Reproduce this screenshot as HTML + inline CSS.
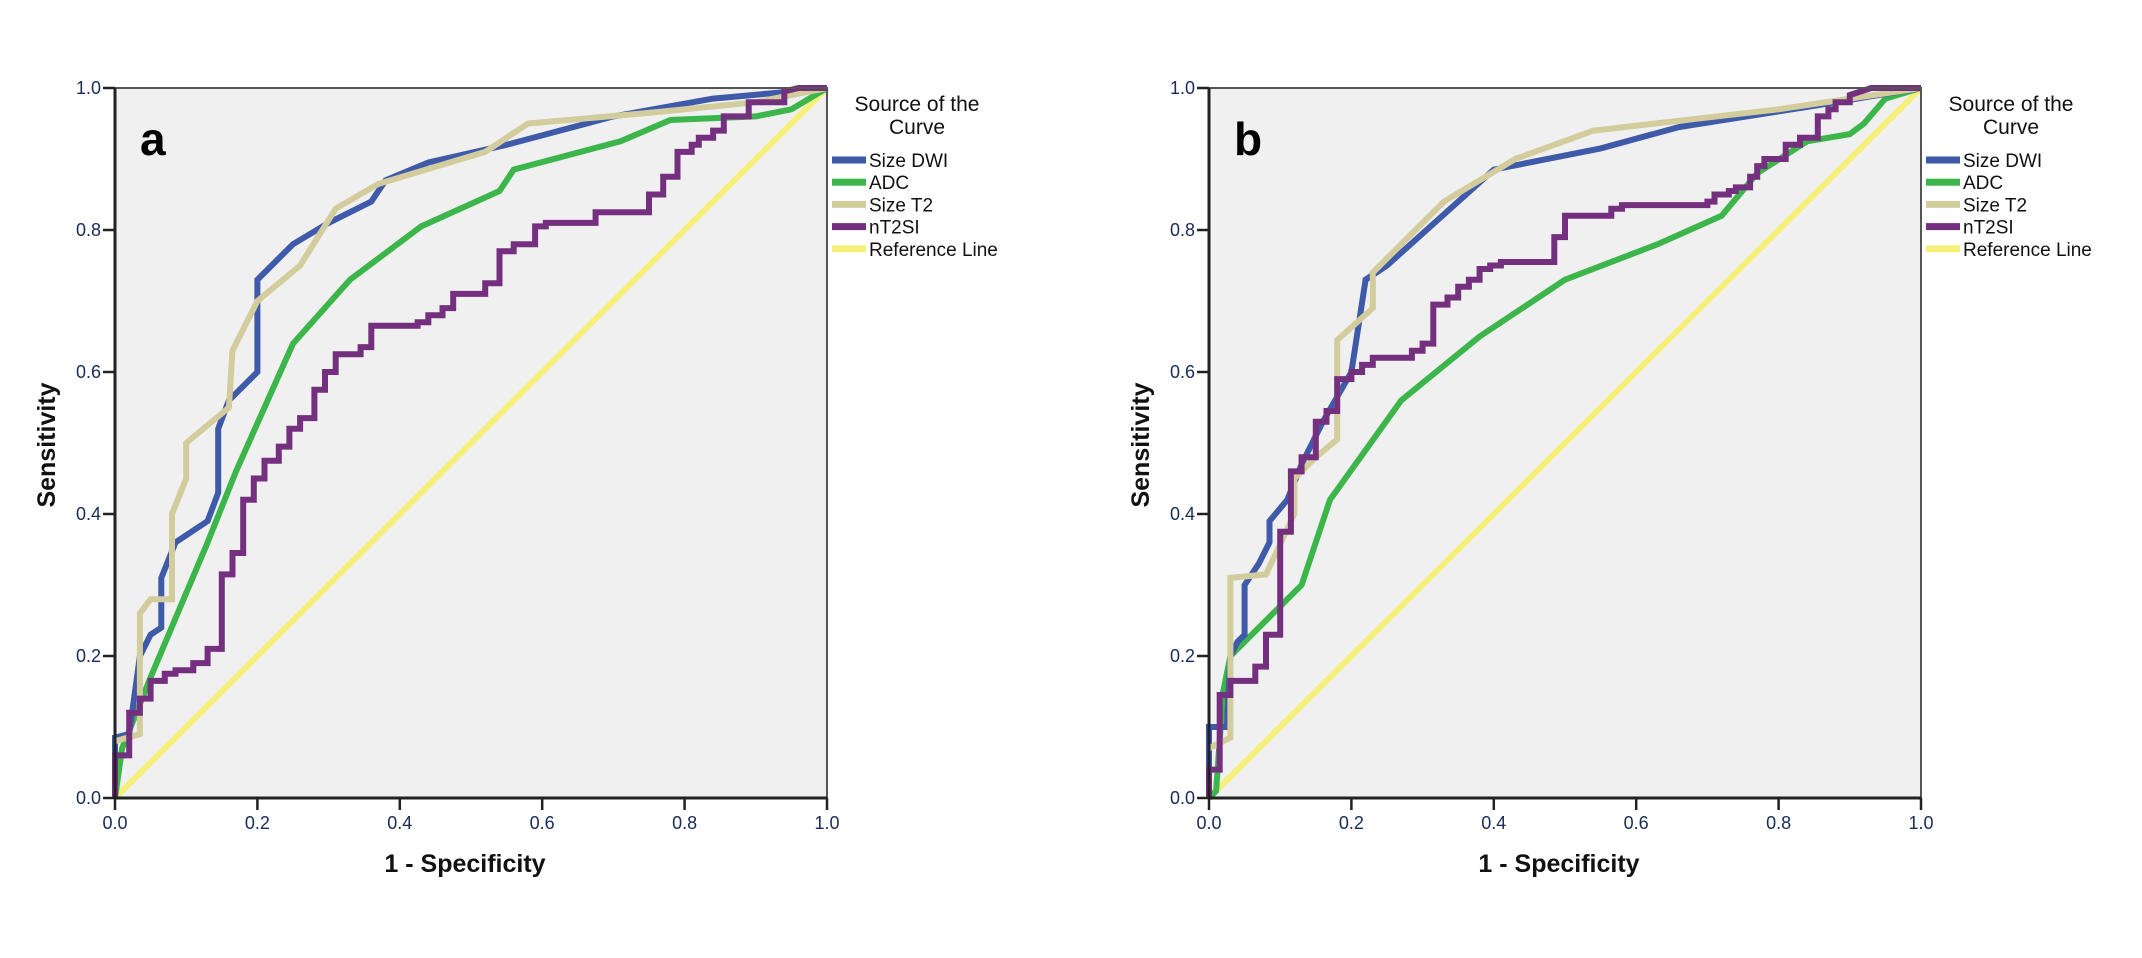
<!DOCTYPE html>
<html><head><meta charset="utf-8"><style>
html,body{margin:0;padding:0;background:#fff;}
svg{display:block;font-family:"Liberation Sans",sans-serif;}
</style></head><body>
<svg id="chart" width="2142" height="958" viewBox="0 0 2142 958" xmlns="http://www.w3.org/2000/svg"></svg>
<script>
// ---------- Data ----------
const xTicks = [0, 0.2, 0.4, 0.6, 0.8, 1.0];
const yTicks = [0, 0.2, 0.4, 0.6, 0.8, 1.0];
const tickLabels = ["0.0","0.2","0.4","0.6","0.8","1.0"];
const seriesNames = ["Size DWI","ADC","Size T2","nT2SI","Reference Line"];
const seriesColors = ["#3e5aa9","#3cb64a","#d3cc9d","#74307f","#f6f07b"];

// Panel a
const aDwiX = [0,0,0.02,0.035,0.05,0.065,0.065,0.085,0.13,0.145,0.145,0.16,0.2,0.2,0.25,0.3,0.36,0.38,0.44,0.55,0.7,0.84,0.95,1];
const aDwiY = [0,0.085,0.09,0.2,0.23,0.24,0.31,0.36,0.39,0.43,0.52,0.56,0.6,0.73,0.78,0.81,0.84,0.87,0.895,0.92,0.96,0.985,0.995,1];
const aAdcX = [0,0.01,0.03,0.05,0.13,0.17,0.25,0.33,0.43,0.54,0.56,0.71,0.78,0.9,0.95,1];
const aAdcY = [0,0.07,0.12,0.17,0.36,0.46,0.64,0.73,0.805,0.855,0.885,0.925,0.955,0.96,0.97,1];
const aT2X = [0,0.035,0.035,0.05,0.08,0.08,0.1,0.1,0.16,0.165,0.2,0.26,0.31,0.37,0.52,0.58,0.75,0.9,1];
const aT2Y = [0.08,0.09,0.26,0.28,0.28,0.4,0.45,0.5,0.55,0.63,0.7,0.75,0.83,0.865,0.91,0.95,0.965,0.98,1];
const aSiX = [0,0,0.02,0.02,0.035,0.035,0.05,0.05,0.07,0.07,0.085,0.085,0.11,0.11,0.13,0.13,0.15,0.15,0.165,0.165,0.18,0.18,0.195,0.195,0.21,0.21,0.23,0.23,0.245,0.245,0.26,0.26,0.28,0.28,0.295,0.295,0.31,0.31,0.345,0.345,0.36,0.36,0.425,0.425,0.44,0.44,0.46,0.46,0.475,0.475,0.52,0.52,0.54,0.54,0.56,0.56,0.59,0.59,0.605,0.605,0.675,0.675,0.75,0.75,0.77,0.77,0.79,0.79,0.81,0.81,0.82,0.82,0.84,0.84,0.855,0.855,0.89,0.89,0.94,0.94,0.96,1];
const aSiY = [0,0.06,0.06,0.12,0.12,0.14,0.14,0.165,0.165,0.175,0.175,0.18,0.18,0.19,0.19,0.21,0.21,0.315,0.315,0.345,0.345,0.42,0.42,0.45,0.45,0.475,0.475,0.495,0.495,0.52,0.52,0.535,0.535,0.575,0.575,0.6,0.6,0.625,0.625,0.635,0.635,0.665,0.665,0.67,0.67,0.68,0.68,0.69,0.69,0.71,0.71,0.725,0.725,0.77,0.77,0.78,0.78,0.805,0.805,0.81,0.81,0.825,0.825,0.85,0.85,0.875,0.875,0.91,0.91,0.92,0.92,0.93,0.93,0.94,0.94,0.96,0.96,0.98,0.98,0.995,1,1];

// Panel b
const bDwiX = [0,0,0.025,0.03,0.04,0.05,0.05,0.07,0.085,0.085,0.11,0.13,0.16,0.2,0.22,0.25,0.4,0.55,0.66,0.85,1];
const bDwiY = [0,0.1,0.1,0.2,0.22,0.23,0.3,0.33,0.36,0.39,0.42,0.47,0.53,0.6,0.73,0.75,0.885,0.915,0.945,0.975,1];
const bAdcX = [0,0.01,0.02,0.03,0.13,0.17,0.22,0.27,0.38,0.5,0.63,0.72,0.77,0.84,0.9,0.92,0.95,1];
const bAdcY = [0,0.01,0.15,0.2,0.3,0.42,0.49,0.56,0.65,0.73,0.78,0.82,0.88,0.925,0.935,0.95,0.985,1];
const bT2X = [0,0.03,0.03,0.08,0.12,0.12,0.15,0.18,0.18,0.23,0.23,0.33,0.43,0.54,0.8,0.9,1];
const bT2Y = [0.07,0.085,0.31,0.315,0.4,0.45,0.48,0.505,0.645,0.69,0.74,0.84,0.9,0.94,0.97,0.985,1];
const bSiX = [0,0,0.015,0.015,0.03,0.03,0.065,0.065,0.08,0.08,0.1,0.1,0.115,0.115,0.13,0.13,0.15,0.15,0.165,0.165,0.18,0.18,0.2,0.2,0.215,0.215,0.23,0.23,0.285,0.285,0.3,0.3,0.315,0.315,0.335,0.335,0.35,0.35,0.365,0.365,0.38,0.38,0.395,0.395,0.41,0.41,0.485,0.485,0.5,0.5,0.565,0.565,0.58,0.58,0.7,0.7,0.71,0.71,0.73,0.73,0.74,0.74,0.76,0.76,0.77,0.77,0.78,0.78,0.81,0.81,0.83,0.83,0.855,0.855,0.87,0.87,0.88,0.88,0.9,0.9,0.93,1];
const bSiY = [0,0.04,0.04,0.145,0.145,0.165,0.165,0.185,0.185,0.23,0.23,0.375,0.375,0.46,0.46,0.48,0.48,0.53,0.53,0.545,0.545,0.59,0.59,0.6,0.6,0.61,0.61,0.62,0.62,0.63,0.63,0.64,0.64,0.695,0.695,0.705,0.705,0.72,0.72,0.73,0.73,0.745,0.745,0.75,0.75,0.755,0.755,0.79,0.79,0.82,0.82,0.83,0.83,0.835,0.835,0.84,0.84,0.85,0.85,0.855,0.855,0.86,0.86,0.875,0.875,0.89,0.89,0.9,0.9,0.92,0.92,0.93,0.93,0.96,0.96,0.97,0.97,0.98,0.98,0.99,1,1];
const refX = [0,1];
const refY = [0,1];

// ---------- Rendering ----------
const NS = "http://www.w3.org/2000/svg";
const svg = document.getElementById("chart");
function mk(tag, attrs, parent){
  const e = document.createElementNS(NS, tag);
  for (const k in attrs) e.setAttribute(k, attrs[k]);
  (parent||svg).appendChild(e);
  return e;
}
const PW = 712, PH = 710, TOP = 88;

function drawPanel(left, letter, series, id){
  const g = mk("g", {});
  
  
  const sx = v => left + v * PW;
  const sy = v => TOP + PH - v * PH;
  const bg = mk("rect", {x:left, y:TOP, width:PW, height:PH, fill:"#f0f0f0"}, g);
  
  
  // series
  const order = [4,1,0,2,3];
  order.forEach(si => {
    const s = series[si];
    const pts = s.x.map((xv,i) => sx(xv).toFixed(1) + "," + sy(s.y[i]).toFixed(1)).join(" ");
    const pl = mk("polyline", {points:pts, fill:"none", stroke:seriesColors[si], "stroke-width":6, "stroke-linejoin":"miter", "stroke-linecap":"butt"}, g);
    
    
  });
  // frame
  const fr = mk("rect", {x:left, y:TOP, width:PW, height:PH, fill:"none", stroke:"#555", "stroke-width":2}, g);
  
  
  mk("line", {x1:left, y1:TOP+PH, x2:left+PW, y2:TOP+PH, stroke:"#222", "stroke-width":3}, g);
  mk("line", {x1:left, y1:TOP, x2:left, y2:TOP+PH, stroke:"#222", "stroke-width":3}, g);
  // ticks
  xTicks.forEach((t,i) => {
    mk("line", {x1:sx(t), y1:TOP+PH, x2:sx(t), y2:TOP+PH+12, stroke:"#222", "stroke-width":2.5}, g);
    const tx = mk("text", {x:sx(t), y:TOP+PH+31, "font-size":18, fill:"#1a2a5a", "text-anchor":"middle"}, g);
    tx.textContent = tickLabels[i];
    
    
  });
  yTicks.forEach((t,i) => {
    mk("line", {x1:left-12, y1:sy(t), x2:left, y2:sy(t), stroke:"#222", "stroke-width":2.5}, g);
    const ty = mk("text", {x:left-14, y:sy(t)+6, "font-size":18, fill:"#1a2a5a", "text-anchor":"end"}, g);
    ty.textContent = tickLabels[i];
    
    
  });
  // axis titles
  const xt = mk("text", {x:left+PW/2-6, y:872, "font-size":25, "font-weight":"bold", fill:"#111", "text-anchor":"middle"}, g);
  xt.textContent = "1 - Specificity";
  
  
  const yt = mk("text", {x:0, y:0, "font-size":25, "font-weight":"bold", fill:"#111", "text-anchor":"middle", transform:"translate("+(left-60)+",445) rotate(-90)"}, g);
  yt.textContent = "Sensitivity";
  
  
  // panel letter
  const pl = mk("text", {x:left+25, y:155, "font-size":46, "font-weight":"bold", fill:"#000"}, g);
  pl.textContent = letter;
  
  
  // legend
  const lg = mk("g", {}, g);
  
  
  const lx = left + PW + 5;
  const t1 = mk("text", {x:lx+85, y:111, "font-size":21, fill:"#111", "text-anchor":"middle"}, lg);
  t1.textContent = "Source of the";
  
  
  const t2 = mk("text", {x:lx+85, y:134, "font-size":21, fill:"#111", "text-anchor":"middle"}, lg);
  t2.textContent = "Curve";
  
  
  seriesNames.forEach((n,i) => {
    const cy = 160 + i*22.2;
    const sw = mk("rect", {x:lx, y:cy-3.5, width:34, height:7, fill:seriesColors[i]}, lg);
    
    
    const lt = mk("text", {x:lx+37, y:cy+7, "font-size":19, fill:"#111"}, lg);
    lt.textContent = n;
    
    
  });
}

drawPanel(115, "a", [
  {x:aDwiX, y:aDwiY}, {x:aAdcX, y:aAdcY}, {x:aT2X, y:aT2Y}, {x:aSiX, y:aSiY}, {x:refX, y:refY}
], "a");
drawPanel(1209, "b", [
  {x:bDwiX, y:bDwiY}, {x:bAdcX, y:bAdcY}, {x:bT2X, y:bT2Y}, {x:bSiX, y:bSiY}, {x:refX, y:refY}
], "b");
</script>
</body></html>
